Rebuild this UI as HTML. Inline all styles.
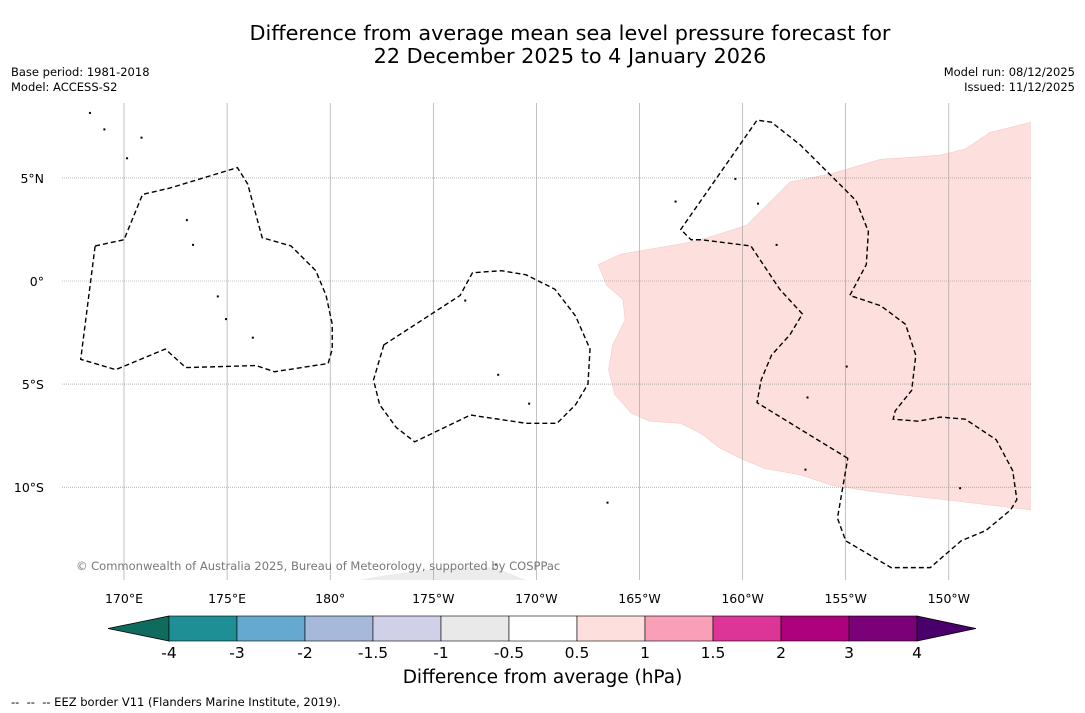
<!DOCTYPE html>
<html><head><meta charset="utf-8">
<style>
body{margin:0;background:#fff;font-family:"DejaVu Sans","Liberation Sans",sans-serif;}
#wrap{position:relative;width:1085px;height:713px;overflow:hidden;background:#fff}
.t{position:absolute;white-space:nowrap;color:#000}
</style></head><body>
<div id="wrap">
<div class="t" style="left:0;width:1140px;top:22px;text-align:center;font-size:20.8px;line-height:23px">Difference from average mean sea level pressure forecast for<br>22 December 2025 to 4 January 2026</div>
<div class="t" style="left:11px;top:65px;font-size:11.5px;line-height:15px">Base period: 1981-2018<br>Model: ACCESS-S2</div>
<div class="t" style="right:10px;top:65px;font-size:11.5px;line-height:15px;text-align:right">Model run: 08/12/2025<br>Issued: 11/12/2025</div>
<div class="t" style="left:0;width:1085px;top:667px;text-align:center;font-size:18.5px">Difference from average (hPa)</div>
<div class="t" style="left:11px;top:695px;font-size:11.5px">--&nbsp; --&nbsp; -- EEZ border V11 (Flanders Marine Institute, 2019).</div>
<svg id="svg" width="1085" height="713" style="position:absolute;left:0;top:0"></svg>
</div>
<script>
const lonTicks=[170,175,180,185,190,195,200,205,210];
const lonLabels=["170°E","175°E","180°","175°W","170°W","165°W","160°W","155°W","150°W"];
const latTicks=[5,0,-5,-10];
const latLabels=["5°N","0°","5°S","10°S"];
const anomLon=[193.0,194.1,197.0,198.0,200.2,201.4,202.3,204.3,206.7,208.2,209.6,210.8,212.0,214.0,214.0,210.6,206.2,204.3,202.8,201.1,199.9,198.9,198.0,197.0,195.5,194.6,193.8,193.5,193.7,194.3,194.2,193.4];
const anomLat=[0.8,1.3,1.8,2.0,2.7,3.9,4.8,5.2,5.9,6.0,6.1,6.4,7.2,7.7,-11.1,-10.7,-10.2,-9.9,-9.4,-9.1,-8.6,-8.1,-7.4,-6.9,-6.8,-6.4,-5.5,-4.3,-3.1,-1.9,-0.9,-0.2];
const eez1Lon=[168.6,170.0,170.9,172.2,175.5,176.0,176.7,178.1,179.3,179.8,180.1,180.1,179.9,177.3,176.4,173.0,172.0,169.6,167.9];
const eez1Lat=[1.7,2.0,4.2,4.5,5.5,4.7,2.1,1.7,0.5,-0.7,-2.1,-3.3,-4.0,-4.4,-4.1,-4.2,-3.3,-4.3,-3.8];
const eez2Lon=[182.6,186.3,186.9,188.3,189.5,190.9,191.9,192.6,192.5,191.9,191.0,189.5,186.8,184.1,183.2,182.4,182.1];
const eez2Lat=[-3.1,-0.7,0.4,0.5,0.3,-0.4,-1.7,-3.3,-5.0,-6.0,-6.9,-6.9,-6.5,-7.8,-7.1,-6.0,-4.8];
const eez3Lon=[205.1,200.7,200.9,201.4,202.3,202.9,201.8,200.4,198.0,197.5,197.0,200.7,201.4,202.8,204.3,205.5,206.1,206.0,205.2,206.7,207.9,208.4,208.2,207.4,207.3,208.5,209.6,210.8,212.3,213.1,213.3,213.0,211.8,210.6,209.1,207.2,205.0,204.6];
const eez3Lat=[-8.6,-5.9,-4.8,-3.6,-2.6,-1.6,-0.4,1.7,2.0,2.0,2.5,7.8,7.7,6.6,5.1,3.9,2.4,0.8,-0.7,-1.2,-2.1,-3.6,-5.3,-6.3,-6.7,-6.8,-6.6,-6.7,-7.7,-9.2,-10.6,-11.1,-12.1,-12.6,-13.9,-13.9,-12.6,-11.5];
const islandLon=[168.3,169.0,170.1,173.0,173.3,174.5,174.9,176.2,186.5,188.1,189.6,193.4,196.7,199.6,200.7,201.6,203.1,205.0,210.5,203.0,170.8,188.0];
const islandLat=[8.2,7.4,6.0,3.0,1.8,-0.7,-1.8,-2.7,-0.9,-4.5,-5.9,-10.7,3.9,5.0,3.8,1.8,-5.6,-4.1,-10.0,-9.1,7.0,-13.7];
const cbBounds=["-4","-3","-2","-1.5","-1","-0.5","0.5","1","1.5","2","3","4"];
const cbColors=["#1f8f96","#65a8d0","#a6b9da","#d0d0e8","#e9e9e9","#ffffff","#fde0dd","#f99fb7","#dd3497","#ae017e","#7a0177"];
const cbLow="#0e6b5d", cbHigh="#4a006a";

const NS="http://www.w3.org/2000/svg";
const FF='DejaVu Sans, Liberation Sans, sans-serif';
const svg=document.getElementById('svg');
const X=lon=>124+(lon-170)*20.62;
const Y=lat=>281-lat*20.62;
const L=62,R=1031,T=103,B=580;
function mk(tag,a,p){const e=document.createElementNS(NS,tag);for(const k in a)e.setAttribute(k,a[k]);(p||svg).appendChild(e);return e;}
const defs=mk('defs',{});const cp=mk('clipPath',{id:'mc'},defs);mk('rect',{x:L,y:T,width:R-L,height:B-T},cp);
const g=mk('g',{'clip-path':'url(#mc)'});
let pts=anomLon.map((v,i)=>X(v)+','+Y(anomLat[i])).join(' ');
let a=mk('polygon',{points:pts,fill:'#fde0dd',stroke:'#f4c8c4','stroke-width':0.6},g);


let gp=mk('path',{d:`M ${X(181.4)} ${B} Q ${X(185)} ${Y(-13.8)} ${X(188)} ${Y(-13.9)} L ${X(189.5)} ${B} Z`,fill:'#ececec'},g);


lonTicks.forEach((v,i)=>{
 const l=mk('line',{x1:X(v),x2:X(v),y1:T,y2:B,stroke:'#999','stroke-width':0.6},g);
 
 
 const t=mk('text',{x:X(v),y:603,'text-anchor':'middle','font-size':12.5,'font-family':FF});
 t.textContent=lonLabels[i];
 
 
});
latTicks.forEach((v,i)=>{
 const l=mk('line',{x1:L,x2:R,y1:Y(v),y2:Y(v),stroke:'#888','stroke-width':0.6,'stroke-dasharray':'1,1'},g);
 
 
 const t=mk('text',{x:44,y:Y(v)+5,'text-anchor':'end','font-size':12.5,'font-family':FF});
 t.textContent=latLabels[i];
 
 
});
[[eez1Lon,eez1Lat],[eez2Lon,eez2Lat],[eez3Lon,eez3Lat]].forEach((s,k)=>{
 const p=s[0].map((v,i)=>X(v)+','+Y(s[1][i])).join(' ');
 const e=mk('polygon',{points:p,fill:'none',stroke:'#000','stroke-width':1.4,'stroke-dasharray':'5,3'},g);
 
 
});
islandLon.forEach((v,i)=>{
 const c=mk('rect',{x:X(v),y:Y(islandLat[i]),width:2,height:2,fill:'#000'},g);
 
 
});
const cr=mk('text',{x:76,y:570,'font-size':11.5,fill:'#777','font-family':FF});
cr.textContent='© Commonwealth of Australia 2025, Bureau of Meteorology, supported by COSPPac';


const cx0=169,cw=68,cy=616,ch=25;
const lt=mk('polygon',{points:`108,${cy+ch/2} ${cx0},${cy} ${cx0},${cy+ch}`,fill:cbLow,stroke:'#000','stroke-width':0.8});


cbColors.forEach((c,i)=>{
 const r=mk('rect',{x:cx0+i*cw,y:cy,width:cw,height:ch,fill:c,stroke:'#000','stroke-width':0.6});
 
 
});
const xe=cx0+cbColors.length*cw;
const rt=mk('polygon',{points:`${xe},${cy} ${xe+59},${cy+ch/2} ${xe},${cy+ch}`,fill:cbHigh,stroke:'#000','stroke-width':0.8});


cbBounds.forEach((b,i)=>{
 const t=mk('text',{x:cx0+i*cw,y:658,'text-anchor':'middle','font-size':15.5,'font-family':FF});
 t.textContent=b;
 
 
});
</script>
</body></html>
